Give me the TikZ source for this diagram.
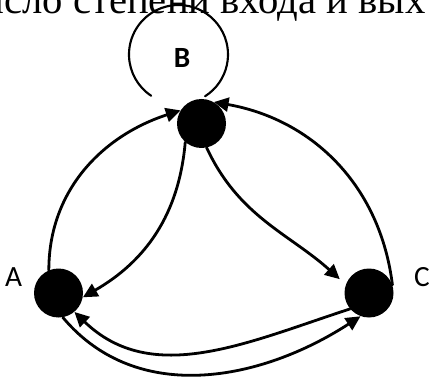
\documentclass[tikz,border=0pt]{standalone}
\usepackage{fontspec}
\setmainfont{Liberation Serif}
\newfontfamily\labelfont{Carlito}
\usetikzlibrary{arrows.meta}

\tikzset{
    vertex/.style={circle, fill=black, inner sep=0pt, minimum size=36.75pt},
    vlabel/.style={font=\labelfont\fontsize{22}{26}\selectfont, inner sep=0pt},
    arc edge/.style={line width=2.1pt, -{Triangle[length=11pt, width=10.5pt]}}
}

\begin{document}
\begin{tikzpicture}[x=0.75pt, y=0.75pt, line cap=round, line join=round]

    % page frame in pixels of the original
    \useasboundingbox (0,0) rectangle (429,-378);

    % clipped line of text at the top
    \node[anchor=base west, inner sep=0pt, font=\fontsize{30.5}{35}\selectfont] (head) at (-38,-13.5) {число степени входа и вых};

    % vertices
    \node[vertex] (B) at (201.5,-123.5) {};
    \node[vertex] (A) at (58.5,-293) {};
    \node[vertex] (C) at (369,-293) {};

    % vertex names
    \node[vlabel] (labA) at (13.5,-277) {A};
    \node[vlabel] (labC) at (422,-277) {C};
    \node[vlabel, font=\labelfont\bfseries\fontsize{22}{26}\selectfont] (labB) at (182,-58) {B};

    % open loop above B
    \coordinate (loopc) at (178.5,-54.5);
    \draw[line width=1.6pt] (loopc) ++(302.5:49.5) arc[start angle=302.5, end angle=596.5, radius=49.5];

    % arcs between the vertices
    \draw[arc edge] (A.113) to[out=90, in=198] (B.148);
    \draw[arc edge] (C.19) to[out=97, in=-10] (B.60);
    \draw[arc edge] (B.229) to[out=265, in=30] (A.-10);
    \draw[arc edge, shorten >=6pt] (B.282) to[out=295, in=138] (C.160);
    \draw[arc edge] (C.220) to[out=198, in=316] (A.-50);
    \draw[arc edge] (A.-80) to[out=-50, in=213] (C.250);

\end{tikzpicture}
\end{document}
